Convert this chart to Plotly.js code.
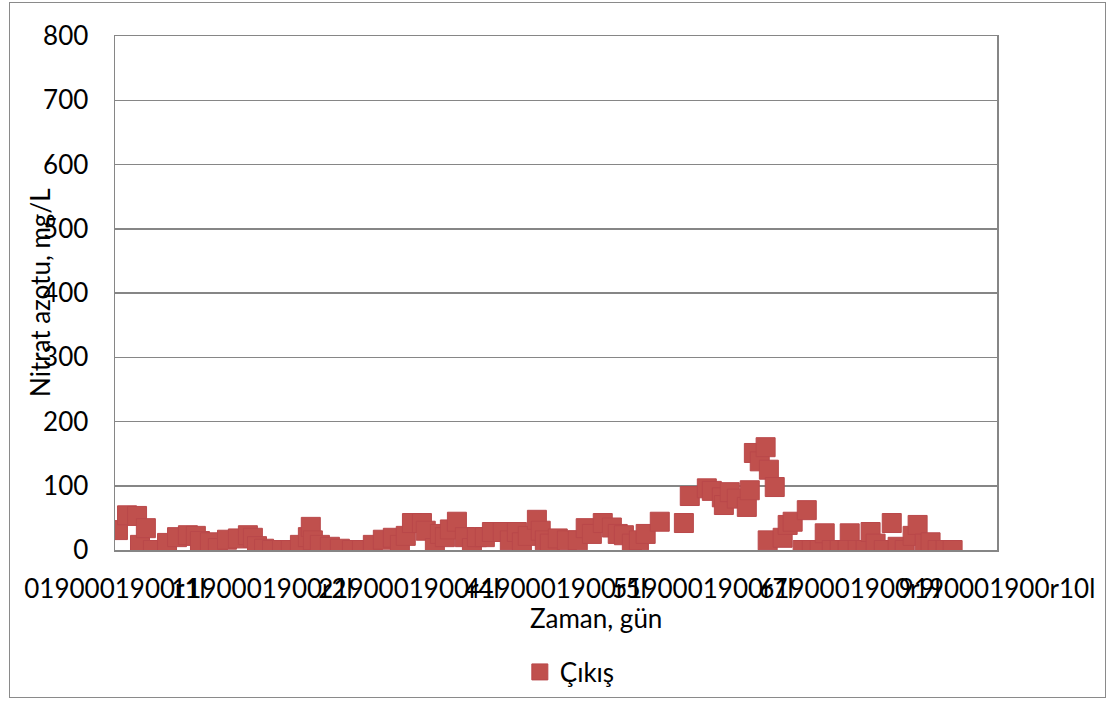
<!DOCTYPE html>
<html>
<head>
<meta charset="utf-8">
<script src="https://cdn.plot.ly/plotly-3.0.1.min.js"></script>
<style>
  html, body { margin: 0; padding: 0; background: #fff; }
  #frame { position: absolute; left: 9px; top: 2px; width: 1095px; height: 694px; border: 1px solid #8a8a8a; }
  #chart { width: 1095px; height: 694px; }
</style>
</head>
<body>
<div id="frame"><div id="chart"></div></div>
<script>
// Time (days) and nitrate nitrogen values (mg/L)
const zaman = [1.0, 4.1, 7.5, 8.5, 10.5, 12.9, 17.7, 21.1, 24.8, 27.5, 28.9, 32.3, 35.0, 38.1, 41.8, 45.2, 46.9, 48.3, 50.7, 53.4,
  56.8, 59.8, 62.9, 65.6, 66.6, 67.3, 69.7, 73.1, 76.5, 80.6, 84.0, 87.7, 91.1, 94.5, 96.9, 98.9, 101.0, 104.4, 105.7, 108.8,
  110.5, 112.2, 113.9, 116.3, 119.0, 121.4, 123.1, 125.8, 128.2, 131.9, 134.3, 136.7, 138.4, 140.4, 143.5, 144.8, 146.2, 147.9,
  150.6, 153.7, 157.4, 160.1, 162.2, 165.9, 169.0, 171.0, 173.1, 175.8, 178.2, 180.5, 185.3, 193.5, 195.5, 201.3, 203.0, 206.4,
  207.1, 209.1, 211.5, 214.9, 215.9, 217.3, 219.3, 221.3, 222.4, 222.0, 224.4, 227.1, 228.8, 230.5, 235.3, 233.9, 237.0, 239.7,
  241.4, 243.8, 246.5, 249.9, 249.2, 252.6, 255.3, 257.0, 258.7, 261.5, 264.2, 266.2, 268.6, 271.3, 273.0, 275.4, 277.4, 279.8,
  282.5, 284.9];
const cikis = [31, 54, 53, 8, 34, 0, 11, 20, 23, 22, 14, 12, 3, 16, 18, 23, 19, 6, 2, 0,
  0, 0, 8, 20, 36, 15, 8, 5, 2, 0, 0, 8, 16, 19, 8, 22, 42, 42, 30, 3,
  25, 20, 32, 44, 20, 3, 20, 20, 28, 28, 15, 28, 12, 22, 47, 30, 15, 10,
  18, 15, 15, 34, 25, 42, 35, 25, 23, 10, 15, 25, 44, 42, 84, 96, 92, 82,
  70, 90, 80, 67, 93, 151, 138, 160, 125, 15, 98, 19, 39, 44, 62, 0, 0, 0,
  26, 0, 0, 26, 0, 0, 0, 28, 10, 0, 42, 5, 0, 22, 39, 10, 12, 0,
  0, 0];

const xTickVals = [0, 50, 100, 150, 200, 250, 300];
const xTickText = ["0190001900r1l", "1190001900r2l", "2190001900r4l", "4190001900r5l",
  "5190001900r7l", "6190001900r9l", "9190001900r10l"];
const yTickVals = [0, 100, 200, 300, 400, 500, 600, 700, 800];

const FONT = "Lato, 'Open Sans', sans-serif";
const markerColor = "#C0504D";

const trace = {
  type: "scatter",
  mode: "markers",
  name: "Çıkış",
  x: zaman,
  y: cikis,
  marker: { symbol: "square", size: 19, color: markerColor, line: { color: "#B9484A", width: 1 } },
  hoverinfo: "x+y"
};

const layout = {
  width: 1095,
  height: 694,
  margin: { l: 105, r: 108, t: 33, b: 147, pad: 0 },
  paper_bgcolor: "#ffffff",
  plot_bgcolor: "#ffffff",
  font: { family: FONT, size: 26, color: "#000" },
  showlegend: true,
  legend: {
    orientation: "h",
    x: 0.459, xanchor: "left",
    yref: "container",
    y: 0.036, yanchor: "middle",
    font: { family: FONT, size: 26, color: "#000" },
    bgcolor: "rgba(0,0,0,0)",
    itemsizing: "trace"
  },
  xaxis: {
    range: [0, 300],
    tickvals: xTickVals,
    ticktext: xTickText,
    tickangle: 0,
    showgrid: false,
    zeroline: false,
    showline: true,
    linecolor: "#868686",
    linewidth: 1.5,
    mirror: true,
    ticks: "",
    ticklabelstandoff: 15,
    tickfont: { family: FONT, size: 26, color: "#000" },
    automargin: false,
    fixedrange: true
  },
  yaxis: {
    range: [0, 800],
    tickvals: yTickVals,
    showgrid: true,
    gridcolor: "#868686",
    gridwidth: 1.5,
    zeroline: false,
    showline: true,
    linecolor: "#868686",
    linewidth: 1.5,
    mirror: true,
    ticks: "",
    ticklabelstandoff: 20,
    tickfont: { family: FONT, size: 26, color: "#000" },
    automargin: false,
    fixedrange: true
  },
  annotations: [
    {
      text: "Nitrat azotu, mg/L",
      xref: "paper", yref: "paper",
      x: -0.085, y: 0.5,
      xanchor: "center", yanchor: "middle",
      textangle: -90,
      showarrow: false,
      font: { family: FONT, size: 26, color: "#000" }
    },
    {
      text: "Zaman, gün",
      xref: "paper", yref: "paper",
      x: 0.5454, y: -0.132,
      xanchor: "center", yanchor: "middle",
      showarrow: false,
      font: { family: FONT, size: 26, color: "#000" }
    }
  ]
};

Plotly.newPlot("chart", [trace], layout, { displayModeBar: false, staticPlot: true });
</script>
</body>
</html>
